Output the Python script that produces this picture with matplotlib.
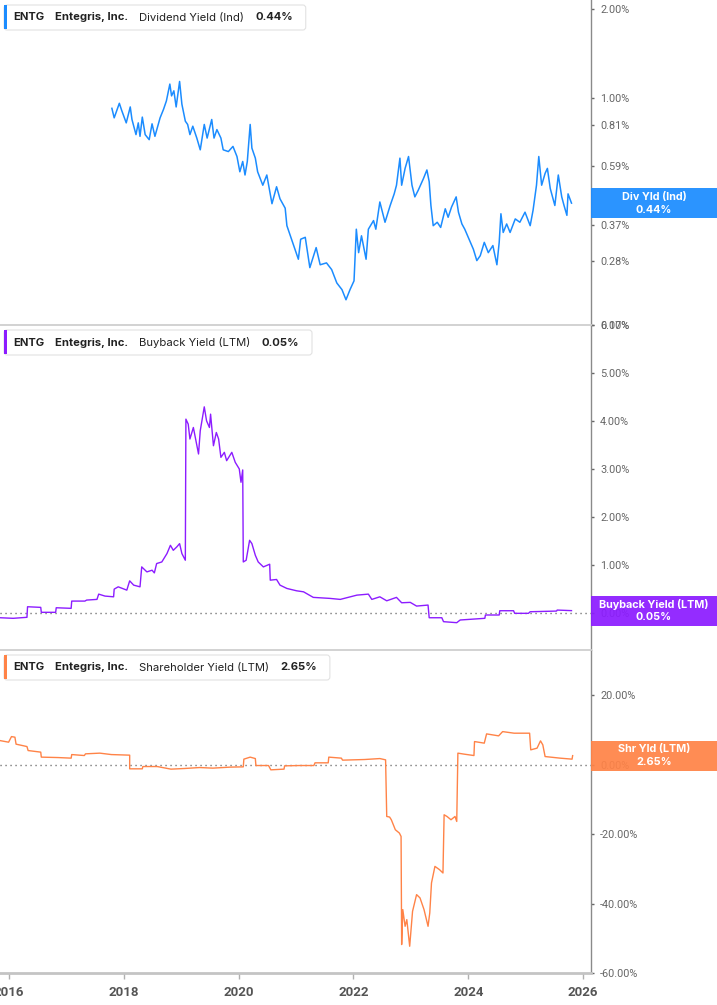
import matplotlib
matplotlib.use("Agg")
import matplotlib.pyplot as plt
from matplotlib.patches import FancyBboxPatch, Rectangle
from matplotlib.transforms import Affine2D
import matplotlib.ticker as mticker

# ---------------- data ----------------
div_years = [2017.79, 2017.83, 2017.92, 2017.96, 2018.04, 2018.11, 2018.14, 2018.21, 2018.25, 2018.28,
             2018.32, 2018.37, 2018.44, 2018.49, 2018.54, 2018.63, 2018.69, 2018.74, 2018.80, 2018.83,
             2018.87, 2018.91, 2018.97, 2019.01, 2019.07, 2019.11, 2019.15, 2019.20, 2019.27, 2019.33,
             2019.40, 2019.45, 2019.53, 2019.57, 2019.62, 2019.69, 2019.73, 2019.82, 2019.90, 2019.97,
             2020.02, 2020.07, 2020.11, 2020.15, 2020.20, 2020.23, 2020.29, 2020.33, 2020.42, 2020.49,
             2020.58, 2020.66, 2020.72, 2020.81, 2020.84, 2020.93, 2021.04, 2021.08, 2021.16, 2021.24,
             2021.35, 2021.42, 2021.53, 2021.62, 2021.71, 2021.80, 2021.87, 2021.94, 2022.01, 2022.05,
             2022.09, 2022.14, 2022.22, 2022.26, 2022.35, 2022.39, 2022.46, 2022.55, 2022.64, 2022.71,
             2022.75, 2022.81, 2022.84, 2022.90, 2022.96, 2023.02, 2023.07, 2023.13, 2023.22, 2023.28,
             2023.32, 2023.35, 2023.39, 2023.46, 2023.52, 2023.60, 2023.65, 2023.71, 2023.79, 2023.83,
             2023.89, 2023.94, 2024.00, 2024.09, 2024.15, 2024.21, 2024.28, 2024.35, 2024.43, 2024.50,
             2024.54, 2024.57, 2024.61, 2024.67, 2024.73, 2024.82, 2024.90, 2024.99, 2025.08, 2025.13,
             2025.19, 2025.23, 2025.28, 2025.34, 2025.38, 2025.43, 2025.51, 2025.57, 2025.63, 2025.67,
             2025.72, 2025.74, 2025.80]
div_vals = [0.922, 0.856, 0.959, 0.908, 0.823, 0.932, 0.845, 0.751, 0.823, 0.741,
            0.861, 0.751, 0.722, 0.817, 0.741, 0.856, 0.915, 0.977, 1.114, 1.016,
            1.057, 0.932, 1.137, 0.952, 0.834, 0.813, 0.751, 0.802, 0.731, 0.667,
            0.813, 0.731, 0.845, 0.731, 0.781, 0.731, 0.667, 0.658, 0.685, 0.633,
            0.562, 0.609, 0.548, 0.609, 0.813, 0.676, 0.625, 0.562, 0.506, 0.548,
            0.438, 0.500, 0.455, 0.423, 0.369, 0.328, 0.284, 0.332, 0.337, 0.266,
            0.311, 0.272, 0.276, 0.262, 0.236, 0.224, 0.207, 0.224, 0.240, 0.359,
            0.299, 0.341, 0.284, 0.359, 0.384, 0.359, 0.444, 0.379, 0.432, 0.473,
            0.506, 0.625, 0.506, 0.577, 0.633, 0.506, 0.462, 0.487, 0.533, 0.570,
            0.520, 0.432, 0.369, 0.379, 0.364, 0.421, 0.394, 0.427, 0.462, 0.410,
            0.374, 0.359, 0.337, 0.307, 0.281, 0.292, 0.324, 0.299, 0.316, 0.272,
            0.324, 0.405, 0.350, 0.374, 0.350, 0.389, 0.379, 0.410, 0.369, 0.416,
            0.506, 0.633, 0.506, 0.555, 0.577, 0.493, 0.432, 0.548, 0.462, 0.432,
            0.400, 0.473, 0.440]

bb_years = [2015.84, 2016.07, 2016.31, 2016.32, 2016.55, 2016.56, 2016.81, 2016.82, 2017.08, 2017.09,
            2017.32, 2017.35, 2017.53, 2017.56, 2017.67, 2017.82, 2017.83, 2017.90, 2018.05, 2018.10,
            2018.17, 2018.28, 2018.31, 2018.40, 2018.49, 2018.53, 2018.57, 2018.66, 2018.75, 2018.81,
            2018.86, 2018.92, 2018.97, 2019.01, 2019.07, 2019.08, 2019.12, 2019.15, 2019.21, 2019.30,
            2019.33, 2019.40, 2019.44, 2019.49, 2019.51, 2019.56, 2019.61, 2019.65, 2019.69, 2019.75,
            2019.79, 2019.88, 2019.94, 2020.01, 2020.04, 2020.07, 2020.08, 2020.13, 2020.19, 2020.23,
            2020.29, 2020.34, 2020.43, 2020.54, 2020.55, 2020.66, 2020.72, 2020.84, 2021.01, 2021.13,
            2021.30, 2021.59, 2021.77, 2022.06, 2022.26, 2022.32, 2022.46, 2022.58, 2022.75, 2022.84,
            2022.99, 2023.10, 2023.30, 2023.32, 2023.54, 2023.57, 2023.80, 2023.86, 2024.29, 2024.30,
            2024.54, 2024.55, 2024.79, 2024.81, 2025.05, 2025.08, 2025.54, 2025.55, 2025.80]
bb_vals = [-0.098, -0.110, -0.089, 0.131, 0.118, 0.015, 0.015, 0.110, 0.098, 0.249,
           0.249, 0.270, 0.284, 0.394, 0.353, 0.338, 0.498, 0.546, 0.477, 0.670,
           0.581, 0.546, 0.961, 0.857, 0.892, 0.836, 1.031, 1.064, 1.239, 1.411,
           1.307, 1.376, 1.446, 1.239, 1.100, 4.039, 3.936, 3.625, 3.865, 3.313,
           3.797, 4.295, 4.004, 3.865, 4.143, 3.485, 3.761, 3.625, 3.243, 3.347,
           3.174, 3.347, 3.139, 3.002, 2.724, 2.981, 1.064, 1.100, 1.515, 1.446,
           1.203, 1.064, 0.961, 1.017, 0.685, 0.699, 0.581, 0.512, 0.463, 0.442,
           0.326, 0.305, 0.284, 0.373, 0.394, 0.284, 0.338, 0.255, 0.326, 0.214,
           0.222, 0.145, 0.166, -0.098, -0.098, -0.180, -0.201, -0.145, -0.110, -0.041,
           -0.041, 0.048, 0.048, -0.006, -0.006, 0.027, 0.041, 0.062, 0.050]

shy_years = [2015.84, 2015.99, 2016.04, 2016.10, 2016.12, 2016.31, 2016.33, 2016.55, 2016.56, 2016.85,
             2017.08, 2017.09, 2017.31, 2017.33, 2017.58, 2017.78, 2018.10, 2018.10, 2018.32, 2018.33,
             2018.58, 2018.82, 2019.05, 2019.32, 2019.55, 2019.85, 2020.08, 2020.09, 2020.20, 2020.29,
             2020.30, 2020.52, 2020.56, 2020.79, 2020.80, 2021.06, 2021.31, 2021.33, 2021.56, 2021.57,
             2021.79, 2021.81, 2022.19, 2022.46, 2022.56, 2022.58, 2022.63, 2022.66, 2022.73, 2022.80,
             2022.83, 2022.84, 2022.86, 2022.90, 2022.93, 2022.98, 2023.03, 2023.10, 2023.16, 2023.23,
             2023.30, 2023.33, 2023.36, 2023.42, 2023.50, 2023.56, 2023.58, 2023.63, 2023.70, 2023.77,
             2023.80, 2023.82, 2023.93, 2024.10, 2024.11, 2024.28, 2024.32, 2024.53, 2024.60, 2024.80,
             2025.07, 2025.09, 2025.20, 2025.26, 2025.30, 2025.34, 2025.60, 2025.81, 2025.82]
shy_vals = [6.99, 6.53, 8.14, 7.97, 5.96, 5.27, 4.12, 3.66, 2.22, 2.10,
            1.93, 2.96, 2.68, 3.17, 3.37, 2.96, 2.79, -1.15, -1.15, -0.49,
            -0.49, -1.24, -1.06, -0.78, -0.95, -0.66, -0.58, 1.64, 2.22, 1.81,
            -0.20, -0.20, -1.44, -1.24, -0.29, -0.20, -0.20, 0.58, 0.58, 2.22,
            1.93, 1.35, 1.53, 1.81, 1.44, -14.88, -15.05, -15.83, -18.71, -19.66,
            -20.64, -51.80, -41.73, -46.54, -44.61, -52.29, -42.22, -37.41, -38.36, -41.73,
            -46.54, -42.68, -34.05, -29.27, -30.22, -31.17, -14.39, -14.88, -15.83, -14.88,
            -16.32, 3.37, 3.08, 2.68, 6.71, 6.25, 8.92, 8.35, 9.58, 9.12,
            9.12, 4.32, 4.81, 6.91, 5.76, 2.39, 1.93, 1.64, 2.65]

year_ticks = [2016, 2018, 2020, 2022, 2024, 2026]
div_ticks = [2.00, 1.00, 0.81, 0.59, 0.37, 0.28, 0.17]
bb_ticks = [0, 1, 2, 3, 4, 5, 6]
shy_ticks = [20, 0, -20, -40, -60]

ticker_name = "ENTG"
company = "Entegris, Inc."
panels = [
    ("Dividend Yield (Ind)", "Div Yld (Ind)", 0.44),
    ("Buyback Yield (LTM)", "Buyback Yield (LTM)", 0.05),
    ("Shareholder Yield (LTM)", "Shr Yld (LTM)", 2.65),
]

BLUE = "#1b8cff"
PURPLE = "#8c1cff"
ORANGE = "#ff8347"

# ---------------- figure ----------------
W, H = 717, 1005
fig = plt.figure(figsize=(W / 100, H / 100), dpi=100)
PX = Affine2D().scale(1 / W, -1 / H).translate(0, 1) + fig.transFigure
XMIN, XMAX = 2015.84, 2026.14
RIGHT_PX = 591


def add_ax(top_px, bot_px):
    return fig.add_axes([0, 1 - bot_px / H, RIGHT_PX / W, (bot_px - top_px) / H])


ax1 = add_ax(0, 325)
ax2 = add_ax(325, 650)
ax3 = add_ax(650, 973)

for i, ax in enumerate([ax1, ax2, ax3]):
    ax.set_xlim(XMIN, XMAX)
    ax.set_facecolor("none")
    ax.spines["left"].set_visible(False)
    ax.spines["right"].set_color("#8a8a8a")
    ax.spines["right"].set_linewidth(1.0)
    if i == 0:
        ax.spines["top"].set_visible(False)
    else:
        ax.spines["top"].set_color("#cfcfcf")
        ax.spines["top"].set_linewidth(1.3)
    if i < 2:
        ax.spines["bottom"].set_visible(False)
        ax.tick_params(axis="x", bottom=False, labelbottom=False)
    ax.yaxis.tick_right()
    ax.tick_params(axis="y", which="major", length=2.5, width=1, color="#666666",
                   labelsize=7.8, labelcolor="#666666", pad=4)
    ax.tick_params(axis="y", which="minor", right=False, left=False)

# Panel 1 : dividend yield (log)
ax1.plot(div_years, div_vals, color=BLUE, lw=1.1)
ax1.set_yscale("log")
ax1.set_ylim(0.17, 2.147)
ax1.yaxis.set_major_locator(mticker.FixedLocator(div_ticks))
ax1.yaxis.set_minor_locator(mticker.NullLocator())
ax1.yaxis.set_major_formatter(mticker.FuncFormatter(lambda v, p: f"{v:.2f}%"))

# Panel 2 : buyback yield
ax2.plot(bb_years, bb_vals, color=PURPLE, lw=1.0)
ax2.set_ylim(-0.77, 6.0)
ax2.yaxis.set_major_locator(mticker.FixedLocator(bb_ticks))
ax2.yaxis.set_major_formatter(mticker.FuncFormatter(lambda v, p: f"{v:.2f}%"))
ax2.axhline(0, color="#555555", lw=1.0, ls=(0, (0.8, 2.8)), zorder=1)

# Panel 3 : shareholder yield
ax3.plot(shy_years, shy_vals, color=ORANGE, lw=1.0)
ax3.set_ylim(-60, 33.1)
ax3.yaxis.set_major_locator(mticker.FixedLocator(shy_ticks))
ax3.yaxis.set_major_formatter(mticker.FuncFormatter(lambda v, p: f"{v:.2f}%"))
ax3.axhline(0, color="#555555", lw=1.0, ls=(0, (0.8, 2.8)), zorder=1)
ax3.spines["bottom"].set_color("#c4c4c4")
ax3.spines["bottom"].set_linewidth(2.0)
ax3.set_xticks(year_ticks)
ax3.set_xticklabels([str(y) for y in year_ticks])
ax3.tick_params(axis="x", length=4, width=1, color="#b0b0b0", labelsize=9.5,
                labelcolor="#555555", pad=5)
for lab in ax3.get_xticklabels():
    lab.set_fontweight("bold")
    lab.set_fontfamily("Roboto")

for ax in (ax1, ax2, ax3):
    for lab in ax.get_yticklabels():
        lab.set_fontfamily("Roboto")

# ---------------- legends ----------------
renderer = fig.canvas.get_renderer()


def legend(y_top, color, metric, value):
    x = 13
    parts = [(ticker_name, "bold"), (company, "bold"), (metric, "normal"), (f"{value:.2f}%", "bold")]
    end = x
    for txt, wt in parts:
        t = fig.text(x, y_top + 12.5, txt, transform=PX, fontsize=8.1, fontweight=wt,
                     family="Inter", color="#222222", va="center", ha="left", zorder=12)
        bb = t.get_window_extent(renderer=renderer)
        end = x + bb.width
        x = end + 11
    box = FancyBboxPatch((4, y_top), end + 13 - 4, 25, boxstyle="round,pad=0,rounding_size=3",
                         transform=PX, facecolor="white", edgecolor="#e2e2e2", lw=0.8, zorder=10)
    fig.add_artist(box)
    bar = Rectangle((4, y_top + 0.5), 3, 24, transform=PX, facecolor=color, edgecolor="none", zorder=11)
    fig.add_artist(bar)


legend(5, BLUE, panels[0][0], panels[0][2])
legend(330, PURPLE, panels[1][0], panels[1][2])
legend(655, ORANGE, panels[2][0], panels[2][2])


# ---------------- right value tags ----------------
def value_tag(ax, val, color, label):
    ydisp = ax.transData.transform((XMAX, val))[1]
    ypx = H - ydisp
    rect = Rectangle((RIGHT_PX, ypx - 15), W - RIGHT_PX, 30, transform=PX, facecolor=color,
                     edgecolor="none", alpha=0.93, zorder=10)
    fig.add_artist(rect)
    fig.text(654, ypx - 6.5, label, transform=PX, ha="center", va="center", fontsize=7.8,
             fontweight="bold", family="Inter", color="white", zorder=11)
    fig.text(654, ypx + 6.5, f"{val:.2f}%", transform=PX, ha="center", va="center", fontsize=7.8,
             fontweight="bold", family="Inter", color="white", zorder=11)


value_tag(ax1, panels[0][2], BLUE, panels[0][1])
value_tag(ax2, panels[1][2], PURPLE, panels[1][1])
value_tag(ax3, panels[2][2], ORANGE, panels[2][1])

fig.savefig("out.png", dpi=100)
